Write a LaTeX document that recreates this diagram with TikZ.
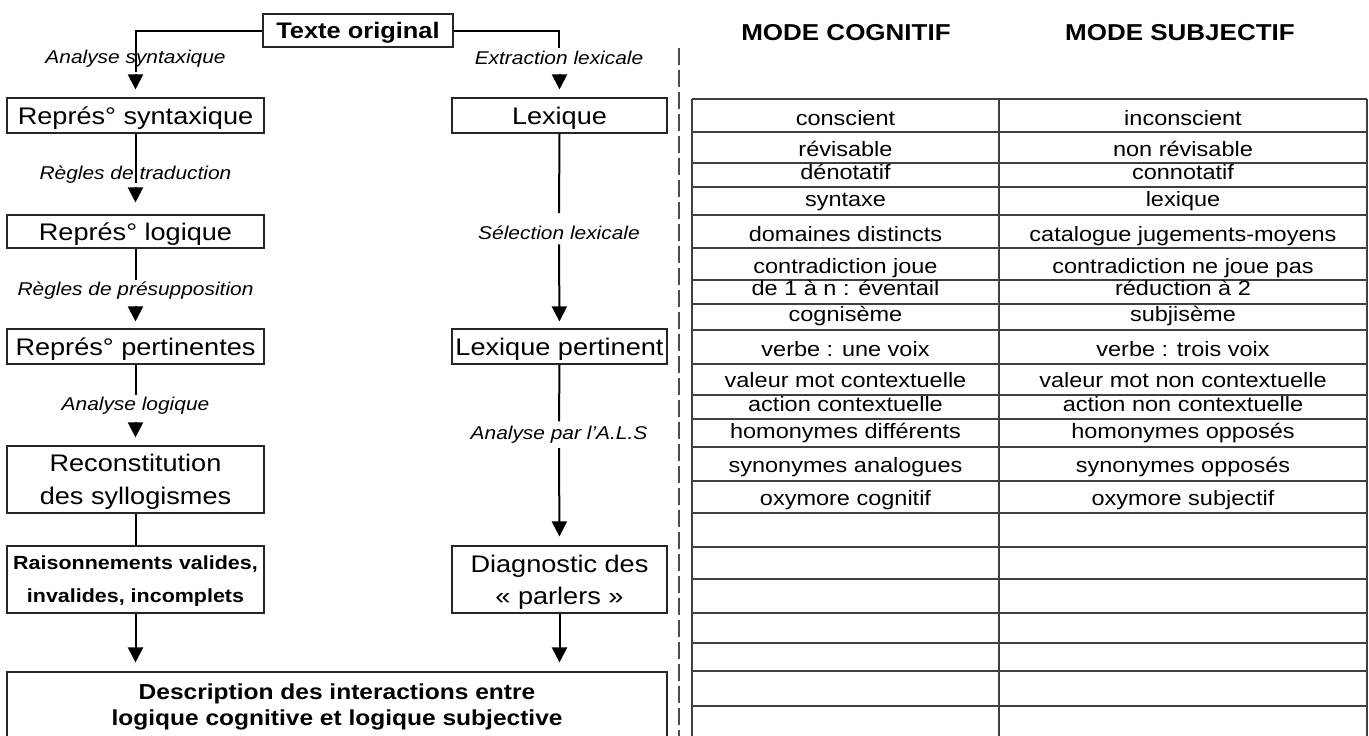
\documentclass[tikz,border=0pt]{standalone}
\usepackage{fontspec}
\setmainfont{Liberation Sans}[FakeStretch=1.13]
\usetikzlibrary{arrows.meta}
\newcommand\twoln[5]{\rule{0pt}{#1}#3\\#4\rule[-#2]{0pt}{#2}#5}
\begin{document}
\begin{tikzpicture}[x=1pt,y=-1pt,
  bx/.style={draw=black!85, line width=1.1pt, inner sep=0pt, align=center},
  bxone/.style={bx, font=\fontsize{24}{33}\selectfont, text height=17.2pt, text depth=0pt},
  lab/.style={font=\itshape\fontsize{18.5}{22}\selectfont, inner sep=0pt, anchor=base},
  hdr/.style={font=\bfseries\fontsize{23}{27}\selectfont, inner sep=0pt, anchor=base},
  cell/.style={font=\fontsize{20.8}{24}\selectfont, inner sep=0pt, anchor=base},
  conn/.style={line width=2pt, black},
  tri/.style={conn, -{Triangle[length=15pt,width=15pt]}},
  tline/.style={line width=1.3pt, black!75},
  sep/.style={line width=1.2pt, black!70, dash pattern=on 17pt off 5pt}]
\useasboundingbox (0,0) rectangle (1369,736);

% ---- left column boxes
\node[bx, minimum width=190pt, minimum height=33pt,
      font=\bfseries\fontsize{22.5}{27}\selectfont, text height=16.1pt, text depth=0pt]
      (orig) at (358,30.5) {Texte original};
\node[bxone, minimum width=257pt, minimum height=35pt] (syn) at (135.5,115.5) {Représ° syntaxique};
\node[bxone, minimum width=257pt, minimum height=33pt] (log) at (135.5,231.5) {Représ° logique};
\node[bxone, minimum width=257pt, minimum height=35pt] (per) at (135.5,346.5) {Représ° pertinentes};
\node[bx, minimum width=257pt, minimum height=67pt, font=\fontsize{24}{33}\selectfont]
      (rec) at (135.5,479.5) {\twoln{25.2pt}{8pt}{Reconstitution}{des syllogismes}{}};
\node[bx, minimum width=257pt, minimum height=67pt, font=\bfseries\fontsize{19}{33}\selectfont]
      (rai) at (135.5,579.5) {\twoln{21.6pt}{8pt}{Raisonnements valides,}{invalides, incomplets}{}};
\node[bx, minimum width=660pt, minimum height=65pt, font=\bfseries\fontsize{21.7}{26.5}\selectfont]
      (desc) at (337,704.5) {\twoln{23.5pt}{8pt}{Description des interactions entre}{logique cognitive et logique subjective}{}};

% ---- right column boxes
\node[bxone, minimum width=215pt, minimum height=35pt] (lex) at (559.5,115.5) {Lexique};
\node[bxone, minimum width=215pt, minimum height=35pt] (lexp) at (559.5,346.5) {Lexique pertinent};
\node[bx, minimum width=215pt, minimum height=67pt, font=\fontsize{24}{32}\selectfont]
      (diag) at (559.5,579.5) {\twoln{25.2pt}{8pt}{Diagnostic des}{«~parlers~»}{}};

% ---- labels
\node[lab] (l1) at (135.5,63) {Analyse syntaxique};
\node[lab] (l2) at (135.5,179) {Règles de traduction};
\node[lab] (l3) at (135.5,295) {Règles de présupposition};
\node[lab] (l4) at (135.5,410.7) {Analyse logique};
\node[lab] (l5) at (559,64) {Extraction lexicale};
\node[lab] (l6) at (559,239) {Sélection lexicale};
\node[lab] (l7) at (559,439) {Analyse par l'A.L.S};

% ---- left connectors
\draw[conn] (orig.west) -| ([yshift=-5pt]l1.south);
\draw[tri, shorten >=8pt] ([yshift=23pt]syn.north) -- (syn.north);
\draw[conn] (syn.south) -- (l2.south);
\draw[tri, shorten >=12pt] ([yshift=27pt]log.north) -- (log.north);
\draw[conn] (log.south) -- ([yshift=1pt]l3.north);
\draw[tri, shorten >=7pt] ([yshift=22pt]per.north) -- (per.north);
\draw[conn] (per.south) -- ([yshift=2pt]l4.north);
\draw[tri, shorten >=8pt] ([yshift=23pt]rec.north) -- (rec.north);
\draw[conn] (rec.south) -- (rai.north);
\draw[tri, shorten >=9pt] (rai.south) -- (rai.south |- desc.north);

% ---- right connectors
\draw[conn] (orig.east) -| ([yshift=2.5pt]l5.north);
\draw[tri, shorten >=8pt] ([yshift=23pt]lex.north) -- (lex.north);
\draw[conn] (lex.south) -- ([yshift=12pt]l6.north);
\draw[tri, shorten >=7pt] ([yshift=-5pt]l6.south) -- (lexp.north);
\draw[conn] (lexp.south) -- ([yshift=4pt]l7.north);
\draw[tri, shorten >=9pt] ([yshift=-5pt]l7.south) -- (diag.north);
\draw[tri, shorten >=9pt] (diag.south) -- (diag.south |- desc.north);

% ---- separator
\draw[sep] (679,48) -- (679,737);

% ---- headers
\node[hdr] (hc) at (846,40) {MODE COGNITIF};
\node[hdr] (hs) at (1180,40) {MODE SUBJECTIF};

% ---- table
\foreach \yy in {99,132,163,187,215,248,280,304,330,364,395,419,447,481,513,547,579,613,643,671,706}
  \draw[tline] (692,\yy) -- (1367,\yy);
\foreach \xx in {692,999,1367}
  \draw[tline] (\xx,99) -- (\xx,737);
\foreach \yy/\ta/\tb [count=\i] in {
  125/conscient/inconscient,
  156/révisable/non révisable,
  179/dénotatif/connotatif,
  206/syntaxe/lexique,
  241.5/domaines distincts/catalogue jugements-moyens,
  273/contradiction joue/contradiction ne joue pas,
  295/de 1 à n : éventail/réduction à 2,
  321.5/cognisème/subjisème,
  356/verbe : une voix/verbe : trois voix,
  387/valeur mot contextuelle/valeur mot non contextuelle,
  411.5/action contextuelle/action non contextuelle,
  438/homonymes différents/homonymes opposés,
  472.5/synonymes analogues/synonymes opposés,
  505/oxymore cognitif/oxymore subjectif}
{
  \node[cell] (ca\i) at (845.5,\yy) {\ta};
  \node[cell] (cb\i) at (1183,\yy) {\tb};
}
\end{tikzpicture}
\end{document}
